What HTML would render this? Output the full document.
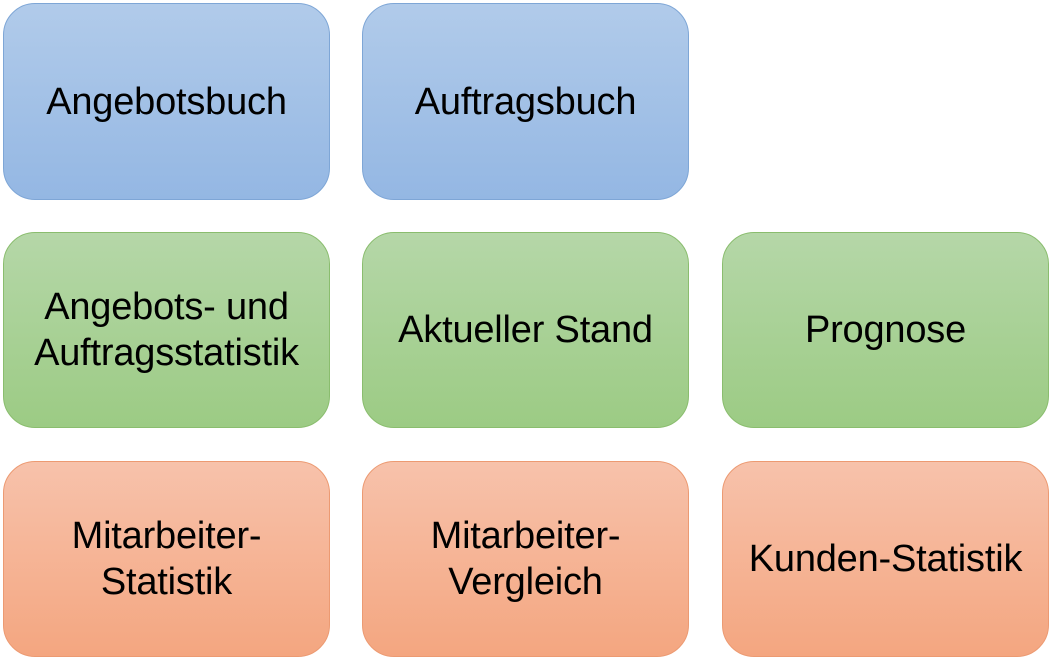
<!DOCTYPE html>
<html><head><style>
body{margin:0;width:1052px;height:660px;background:#fff;position:relative;overflow:hidden;font-family:"Liberation Sans",sans-serif;}
.b{position:absolute;width:327px;box-sizing:border-box;border-radius:32px;display:flex;align-items:center;justify-content:center;text-align:center;font-size:38px;line-height:46px;color:#000;letter-spacing:-0.2px}
.bl{background:linear-gradient(#b1cbea,#94b7e3);border:1.5px solid #7ea6d6}
.gr{background:linear-gradient(#b5d7a8,#9ccb84);border:1.5px solid #8abd6e}
.or{background:linear-gradient(#f7c2ab,#f4a680);border:1.5px solid #ec9a72}
.c1{left:3px}.c2{left:362px}.c3{left:722px}
.r1{top:3px;height:197px}.r2{top:232px;height:196px}.r3{top:461px;height:196px}
</style></head><body>
<div class="b bl c1 r1">Angebotsbuch</div>
<div class="b bl c2 r1">Auftragsbuch</div>
<div class="b gr c1 r2">Angebots- und<br>Auftragsstatistik</div>
<div class="b gr c2 r2">Aktueller Stand</div>
<div class="b gr c3 r2">Prognose</div>
<div class="b or c1 r3">Mitarbeiter-<br>Statistik</div>
<div class="b or c2 r3">Mitarbeiter-<br>Vergleich</div>
<div class="b or c3 r3">Kunden-Statistik</div>
</body></html>
